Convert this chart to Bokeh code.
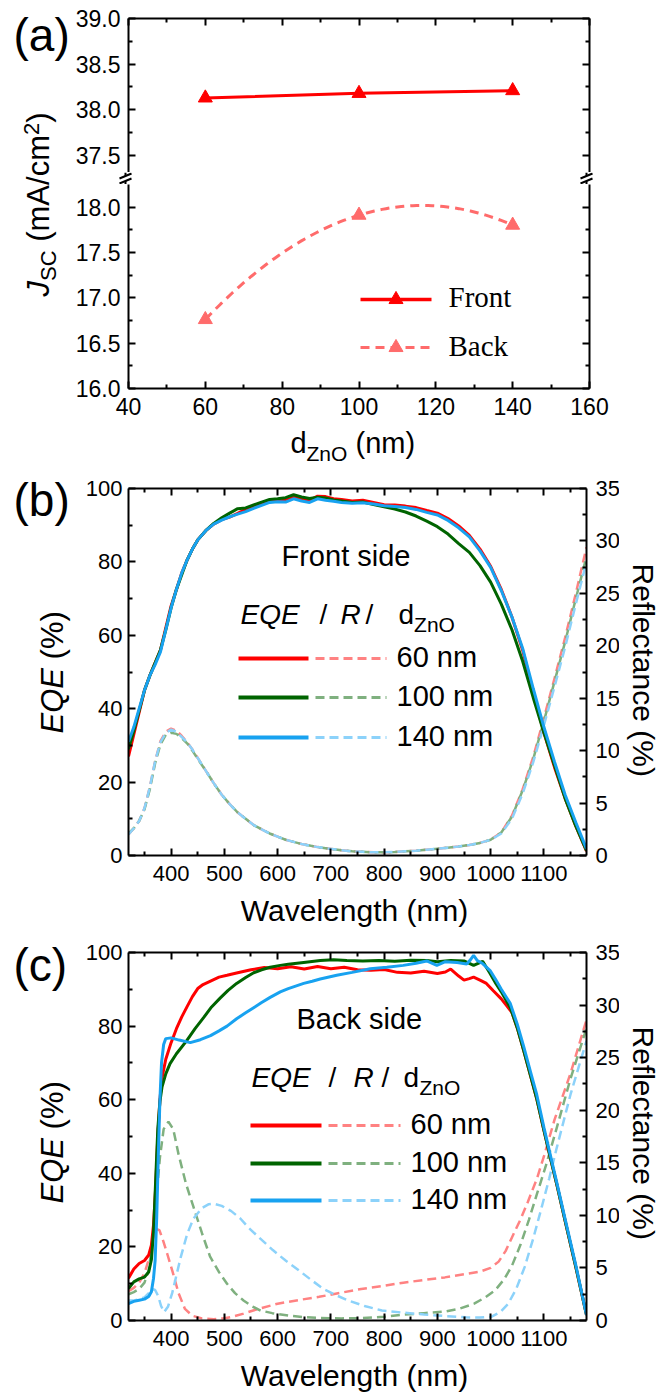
import numpy as np
from math import pi
from bokeh.plotting import figure
from bokeh.models import Range1d, LinearAxis, FixedTicker, CustomJSTickFormatter, Label
from bokeh.layouts import column, row
from bokeh.embed import file_html
from bokeh.resources import INLINE

SANS = "Liberation Sans"
SERIF = "Liberation Serif"

# ---------------- panel (a) data ----------------
d_zno = [60, 100, 140]
jsc_front = [38.13, 38.18, 38.21]
jsc_back = [16.76, 17.91, 17.80]
a_x_major = [40, 60, 80, 100, 120, 140, 160]
a_x_minor = [50, 70, 90, 110, 130, 150]
a_y_major_up = [37.5, 38.0, 38.5, 39.0]
a_y_minor_up = [37.75, 38.25, 38.75]
a_y_major_lo = [16.0, 16.5, 17.0, 17.5, 18.0]
a_y_minor_lo = [16.25, 16.75, 17.25, 17.75]

# ---------------- panel (b) data: front side ----------------
wl_front = [320, 330, 340, 350, 360, 370, 380, 390, 400, 410, 420, 430, 440, 450,
            465, 480, 495, 510, 525, 540, 555, 570, 585, 600, 615, 630, 645, 660, 675, 690, 705, 720,
            740, 760, 780, 800, 820, 840, 860, 880, 900, 920, 940, 960, 980, 1000, 1020, 1040, 1060,
            1080, 1100, 1120, 1140, 1160, 1180]
eqe_front_60 = [27, 33, 39, 45, 49, 52.5, 56, 62, 68, 72.5, 77, 80.5, 83.5, 86,
                88.5, 90.3, 91.5, 92.2, 93.2, 94.3, 95, 95.8, 96.5, 96.6, 96.8, 97.6, 97.2, 96.8, 97.9, 97.8, 97.2, 97,
                96.6, 96.8, 96.2, 95.6, 95.5, 95.2, 94.8, 94, 93.3, 91.8, 89.8, 87.2, 83.5, 78.8, 72.5, 65, 56,
                44.5, 33.5, 24, 15.5, 8, 1.2]
eqe_front_100 = [29, 34, 39.5, 45, 49, 52.5, 56, 61.5, 67.5, 72.5, 76.5, 80.5, 83.5, 86,
                 88.5, 90.5, 92, 93.3, 94.5, 94.7, 95.5, 96.3, 97, 97.2, 97.5, 98.3, 97.7, 97.3, 97.6, 97.4, 96.9, 96.6,
                 96.2, 96.3, 95.6, 95, 94.4, 93.6, 92.5, 91.1, 89.6, 87.6, 85, 82.6, 79, 74.5, 68.5, 61.5, 53,
                 43, 33.5, 24.5, 15.5, 8, 1.3]
eqe_front_140 = [31, 35, 40, 45, 49, 52, 55.5, 61.5, 67.5, 72.5, 77, 80.5, 83.5, 86,
                 88.5, 90.3, 91.4, 92.3, 93, 93.7, 94.6, 95.4, 96.2, 96.4, 96.3, 97.2, 96.6, 96.2, 97.2, 96.8, 96.5, 96.2,
                 96, 96.1, 95.8, 95.3, 95.1, 94.8, 94.3, 93.5, 92.8, 91.3, 89.3, 86.8, 83, 78.5, 72.2, 65, 56.5,
                 45.5, 35, 25.5, 16.5, 9, 1.8]
r_front_60 = [2.0, 2.6, 3.3, 4.5, 6.5, 9.0, 10.9, 11.8, 12.1, 11.9, 11.4, 10.8, 10.1, 9.3,
              8.1, 6.9, 5.8, 4.9, 4.1, 3.5, 2.9, 2.5, 2.1, 1.8, 1.5, 1.3, 1.1, 0.95, 0.8, 0.7, 0.6, 0.5,
              0.4, 0.35, 0.3, 0.3, 0.33, 0.4, 0.45, 0.55, 0.65, 0.75, 0.85, 1.0, 1.2, 1.5, 2.2, 3.8, 6.3,
              9.4, 13.1, 16.9, 20.8, 25.0, 29.4]
r_front_100 = [2.1, 2.6, 3.3, 4.4, 6.3, 8.8, 10.6, 11.5, 11.7, 11.6, 11.2, 10.7, 10.0, 9.2,
               8.1, 6.9, 5.8, 4.9, 4.1, 3.5, 2.9, 2.5, 2.1, 1.8, 1.5, 1.3, 1.1, 0.95, 0.8, 0.7, 0.6, 0.5,
               0.4, 0.35, 0.3, 0.3, 0.33, 0.4, 0.45, 0.55, 0.65, 0.75, 0.85, 1.0, 1.2, 1.5, 2.2, 3.7, 6.2,
               9.2, 12.8, 16.6, 20.4, 24.5, 28.5]
r_front_140 = [2.0, 2.6, 3.3, 4.5, 6.5, 9.0, 10.8, 11.7, 12.0, 11.8, 11.3, 10.8, 10.1, 9.3,
               8.1, 6.9, 5.8, 4.9, 4.1, 3.5, 2.9, 2.5, 2.1, 1.8, 1.5, 1.3, 1.1, 0.95, 0.8, 0.7, 0.6, 0.5,
               0.4, 0.35, 0.3, 0.3, 0.33, 0.4, 0.45, 0.55, 0.65, 0.75, 0.85, 1.0, 1.2, 1.5, 2.1, 3.5, 5.9,
               8.9, 12.4, 16.1, 19.9, 24.0, 28.0]

# ---------------- panel (c) data: back side ----------------
wl_eqe_back_60 = [320, 330, 340, 350, 358, 363, 367, 371, 375, 379, 383, 390, 400, 410, 420, 430, 440, 450, 460, 475,
                  490, 505, 525, 550, 575, 600, 625, 650, 675, 700, 725, 750, 775, 800, 825, 850, 875, 900, 915, 925,
                  940, 950, 960, 968, 980, 992, 1005, 1020, 1030, 1040, 1050, 1062, 1075, 1086, 1100, 1112, 1125,
                  1140, 1160, 1180]
eqe_back_60 = [11.5, 14, 15.5, 16.3, 17.8, 20.5, 26, 36, 50, 60, 66, 71, 75.5, 79.3, 82.5, 85.3, 88, 90.2, 91.3, 92.3,
               93.3, 93.8, 94.5, 95.3, 95.9, 95.6, 96.1, 95.5, 96.2, 95.6, 96.0, 95.3, 95.2, 95.4, 94.6, 94.4, 94.9,
               94.3, 94.7, 95.5, 93.6, 92.5, 92.9, 93.3, 92.5, 91.6, 89.6, 87.4, 85.6, 83.7, 79.5, 73.4, 66.5, 60.6,
               51.7, 44.3, 36.5, 27, 14.5, 1.5]
wl_eqe_back_100 = [320, 330, 340, 350, 358, 363, 367, 371, 375, 379, 383, 390, 398, 410, 429, 445, 461, 476, 492, 507,
                   523, 540, 555, 570, 586, 605, 620, 649, 680, 705, 730, 760, 790, 820, 850, 880, 900, 925, 950, 968,
                   985, 999, 1010, 1020, 1037, 1050, 1062, 1075, 1086, 1100, 1112, 1125, 1140, 1160, 1180]
eqe_back_100 = [8.7, 10.5, 11.3, 11.8, 13.2, 16.5, 24, 38, 52, 59.5, 63.5, 67, 69.8, 72.5, 76, 79.3, 82.3, 85.2, 87.6,
                89.7, 91.6, 93.2, 94.5, 95.3, 96, 96.5, 96.8, 97.3, 97.8, 98, 97.8, 97.7, 97.8, 97.6, 97.9, 97.8, 97.5,
                97.8, 97.7, 96.5, 97.6, 94.3, 91.5, 89.3, 85, 79.5, 73.4, 66.5, 60.6, 51.7, 44.3, 36.5, 27, 14.5, 1.5]
wl_eqe_back_140 = [320, 330, 340, 350, 358, 363, 367, 370, 373, 376, 379, 382, 386, 390, 400, 415, 436, 455, 474, 490,
                   505, 523, 540, 555, 570, 586, 605, 620, 649, 665, 680, 711, 740, 774, 805, 836, 860, 880, 899, 915,
                   937, 955, 962, 968, 975, 985, 999, 1010, 1020, 1037, 1050, 1062, 1075, 1086, 1100, 1112, 1125,
                   1140, 1160, 1180]
eqe_back_140 = [4.6, 5.2, 5.5, 5.8, 6.5, 7.8, 11.5, 16.3, 28, 45, 60, 70, 75, 76.6, 76.8, 76.2, 75.5, 76.3, 77.4, 78.7,
                80, 82, 83.6, 85, 86.4, 87.8, 89.3, 90.2, 91.6, 92.2, 92.8, 93.8, 94.6, 95.6, 96, 96.5, 97.1, 97.7,
                96.5, 97.5, 97.3, 96.9, 98, 99.2, 97.8, 97, 95.1, 92.5, 90, 86.1, 80.5, 74.5, 67.5, 61.7, 52.5, 45,
                37, 27.5, 15, 1.5]
wl_r_back_60 = [320, 330, 340, 350, 358, 365, 372, 378, 385, 393, 403, 414, 426, 440, 458, 480, 497, 515, 536, 560,
                600, 640, 678, 720, 757, 800, 836, 875, 914, 950, 980, 1000, 1015, 1028, 1040, 1056, 1070, 1087,
                1100, 1120, 1150, 1180]
r_back_60 = [2.8, 3.1, 3.6, 4.5, 5.8, 7.6, 8.7, 8.6, 7.6, 6.3, 4.6, 2.6, 1.1, 0.45, 0.2, 0.12, 0.2, 0.35, 0.65, 1.05,
             1.6, 1.95, 2.25, 2.65, 3.0, 3.3, 3.6, 3.85, 4.1, 4.4, 4.65, 5.0, 5.6, 6.6, 7.9, 9.6, 11.3, 13.5, 15.6,
             19.1, 23.5, 28.6]
wl_r_back_100 = [320, 330, 340, 350, 358, 365, 372, 379, 386, 395, 404, 414, 428, 442, 458, 473, 490, 505, 520, 536,
                 552, 568, 590, 623, 650, 678, 720, 757, 800, 836, 875, 914, 940, 969, 990, 1009, 1025, 1040, 1056,
                 1072, 1088, 1103, 1124, 1150, 1180]
r_back_100 = [2.5, 2.7, 3.0, 3.6, 4.8, 7.5, 11.5, 15.5, 18.2, 18.9, 18.2, 15.8, 13, 10.8, 8.3, 6.1, 4.6, 3.5, 2.6, 1.9,
              1.35, 0.95, 0.7, 0.45, 0.32, 0.25, 0.2, 0.22, 0.35, 0.55, 0.7, 0.85, 1.1, 1.6, 2.2, 2.9, 3.9, 5.2, 7.2,
              9.6, 12.2, 14.6, 18.3, 23, 27.8]
wl_r_back_140 = [320, 330, 340, 350, 358, 364, 370, 376, 381, 387, 394, 402, 418, 430, 442, 458, 470, 481, 495, 513,
                 530, 544, 565, 591, 615, 639, 662, 686, 710, 733, 765, 796, 835, 875, 915, 954, 980, 1001, 1018,
                 1033, 1048, 1064, 1080, 1096, 1110, 1124, 1150, 1180]
r_back_140 = [1.9, 1.9, 2.0, 2.2, 2.6, 3.0, 2.9, 2.3, 1.4, 0.8, 1.3, 2.6, 6.0, 8.2, 9.7, 10.7, 11.05, 11.1, 10.9, 10.4,
              9.7, 8.9, 7.9, 6.7, 5.7, 4.8, 3.9, 3.0, 2.4, 1.9, 1.35, 0.95, 0.75, 0.57, 0.42, 0.3, 0.28, 0.35, 0.8,
              1.6, 3.0, 5.1, 7.8, 10.8, 13.5, 16.4, 21.5, 26.6]

wl_x_major = [400, 500, 600, 700, 800, 900, 1000, 1100]
wl_x_minor = [350, 450, 550, 650, 750, 850, 950, 1050, 1150]
eqe_major = [0, 20, 40, 60, 80, 100]
eqe_minor = [10, 30, 50, 70, 90]
r_major = [0, 5, 10, 15, 20, 25, 30, 35]
r_minor = [2.5, 7.5, 12.5, 17.5, 22.5, 27.5, 32.5]
thick_labels = ["60 nm", "100 nm", "140 nm"]

RED, GREEN, BLUE = "#FF0000", "#006400", "#18A2F0"
RED_L, GREEN_L, BLUE_L = "#FF8282", "#7FB07F", "#8CD2FA"
BACK_A = "#FF6B6B"

PAGE_W, PAGE_H = 659, 1398
LSTRIP, RSTRIP = 72, 41           # text strips left / right of the panels
MID_W = PAGE_W - LSTRIP - RSTRIP  # 546
BORDER_L = 125 - LSTRIP           # 53
BASE_FIX = 0.4                    # Label baseline correction (fraction of the font size)


class Map:
    """page pixel -> data coordinates of one frame"""
    def __init__(s, L, R, T, B, x0, x1, y0, y1):
        s.L, s.R, s.T, s.B, s.x0, s.x1, s.y0, s.y1 = L, R, T, B, x0, x1, y0, y1

    def x(s, px):
        return s.x0 + (px - s.L) / (s.R - s.L) * (s.x1 - s.x0)

    def y(s, py):
        return s.y1 - (py - s.T) / (s.B - s.T) * (s.y1 - s.y0)


FMT1 = "return tick.toFixed(1);"


def style_axis(ax, ticker, show=True, standoff=8, size=22):
    ax.ticker = ticker
    ax.axis_line_width = 2
    ax.axis_line_color = "black"
    ax.major_tick_line_width = 2
    ax.minor_tick_line_width = 2
    ax.major_tick_line_color = "black"
    ax.minor_tick_line_color = "black"
    ax.major_tick_in = 7
    ax.major_tick_out = 0
    ax.minor_tick_in = 4
    ax.minor_tick_out = 0
    ax.major_label_text_font = SANS
    ax.major_label_text_color = "black"
    ax.axis_label = None
    if show:
        ax.major_label_text_font_size = f"{size}px"
        ax.major_label_standoff = standoff
    else:
        ax.formatter = CustomJSTickFormatter(code="return '';")
        ax.major_label_text_font_size = "1px"
        ax.major_label_standoff = 0


def base_fig(fw, fh, bl, br, bt, bb, xr, yr, xloc="below", yloc="left", align=True):
    p = figure(frame_width=fw, frame_height=fh, min_border_left=bl, min_border_right=br,
               min_border_top=bt, min_border_bottom=bb, x_range=xr, y_range=yr,
               x_axis_location=xloc, y_axis_location=yloc, frame_align=align,
               output_backend="svg", toolbar_location=None, tools="")
    p.xgrid.grid_line_color = None
    p.ygrid.grid_line_color = None
    p.outline_line_color = None
    p.background_fill_color = "white"
    p.border_fill_color = "white"
    return p


def strip_fig(fw, h, bl, br, x0, x1, y0, y1):
    # a plain strip whose data coordinates are page pixels
    return base_fig(fw, h, bl, br, 0, 0, Range1d(x0, x1), Range1d(y1, y0), xloc=None, yloc=None, align=False)


def lab(p, m, px, py, text, size, font=SANS, style="normal", align="left", angle=0.0):
    if angle == 0:
        py = py - BASE_FIX * size
    elif angle > 0:
        px = px - BASE_FIX * size
    else:
        px = px + BASE_FIX * size
    x = m.x(px) if m is not None else px
    y = m.y(py) if m is not None else py
    p.add_layout(Label(x=x, y=y, text=text, text_font=font, text_font_size=f"{size}px",
                       text_font_style=style, text_align=align, text_baseline="alphabetic", angle=angle,
                       text_color="black"))


# ====================== (a): upper and lower segments of the broken axis ======================
UP_T, UP_B = 18, 172
LO_T, LO_B = 184, 388
A_BOT = 38
up_lo = 39.0 - (UP_B - UP_T) / 91.3
lo_hi = 16.0 + (LO_B - LO_T) / 90.75
xt_a = FixedTicker(ticks=a_x_major, minor_ticks=a_x_minor)
RB_A = MID_W - BORDER_L - 461

pa_up = base_fig(461, UP_B - UP_T, BORDER_L, RB_A, UP_T, 0,
                 Range1d(40, 160), Range1d(up_lo, 39.0), xloc=None)
yt_up = FixedTicker(ticks=a_y_major_up, minor_ticks=a_y_minor_up)
style_axis(pa_up.yaxis[0], yt_up, standoff=8, size=23)
pa_up.yaxis[0].formatter = CustomJSTickFormatter(code=FMT1)
ax = LinearAxis()
style_axis(ax, xt_a, show=False)
pa_up.add_layout(ax, "above")
ax = LinearAxis()
style_axis(ax, yt_up, show=False)
pa_up.add_layout(ax, "right")
pa_up.line(d_zno, jsc_front, line_color=RED, line_width=3)
pa_up.scatter(d_zno, jsc_front, marker="triangle", size=14, fill_color=RED, line_color=RED)

# break strip between the two segments (frame a little wider than the panel frame)
BS_L, BS_R = 117, 594
bs = strip_fig(BS_R - BS_L, LO_T - UP_B, BS_L - LSTRIP, MID_W - (BS_R - LSTRIP), BS_L, BS_R, UP_B, LO_T)
for cx in (125, 586):
    bs.segment(x0=[cx, cx], y0=[UP_B, 180.5], x1=[cx, cx], y1=[175.5, LO_T], line_color="black", line_width=2)
    bs.segment(x0=[cx - 6, cx - 6], y0=[178, 183], x1=[cx + 6, cx + 6], y1=[173, 178],
               line_color="black", line_width=2)

pa_lo = base_fig(461, LO_B - LO_T, BORDER_L, RB_A, 0, A_BOT,
                 Range1d(40, 160), Range1d(16.0, lo_hi))
yt_lo = FixedTicker(ticks=a_y_major_lo, minor_ticks=a_y_minor_lo)
style_axis(pa_lo.xaxis[0], xt_a, standoff=9, size=23)
style_axis(pa_lo.yaxis[0], yt_lo, standoff=8, size=23)
pa_lo.yaxis[0].formatter = CustomJSTickFormatter(code=FMT1)
ax = LinearAxis()
style_axis(ax, yt_lo, show=False)
pa_lo.add_layout(ax, "right")
ma = Map(125, 586, LO_T, LO_B, 40, 160, 16.0, lo_hi)

xs_fit = np.linspace(min(d_zno), max(d_zno), 81)
back_fit = np.polyval(np.polyfit(d_zno, jsc_back, 2), xs_fit)
pa_lo.line(xs_fit, back_fit, line_color=BACK_A, line_width=3, line_dash="9 6")
pa_lo.scatter(d_zno, jsc_back, marker="triangle", size=14, fill_color=BACK_A, line_color=BACK_A)

# legend (a)
pa_lo.segment(x0=[ma.x(357)], y0=[ma.y(299)], x1=[ma.x(428)], y1=[ma.y(299)], line_color=RED, line_width=3.5)
pa_lo.scatter([ma.x(392.5)], [ma.y(299)], marker="triangle", size=14, fill_color=RED, line_color=RED)
pa_lo.segment(x0=[ma.x(357)], y0=[ma.y(347)], x1=[ma.x(428)], y1=[ma.y(347)], line_color=BACK_A,
              line_width=3, line_dash="9 6")
pa_lo.scatter([ma.x(392.5)], [ma.y(347)], marker="triangle", size=14, fill_color=BACK_A, line_color=BACK_A)
lab(pa_lo, ma, 445, 308, "Front", 29, font=SERIF)
lab(pa_lo, ma, 445, 357, "Back", 29, font=SERIF)

# x-axis title strip (a): page rows 426..468
SA_T = LO_B + A_BOT
SA_B = 468
sa = strip_fig(461, SA_B - SA_T, BORDER_L, RB_A, 125, 586, SA_T, SA_B)
lab(sa, None, 290, 454, "d", 29)
lab(sa, None, 306, 461, "ZnO", 21)
lab(sa, None, 355, 454, "(nm)", 29)


# ====================== (b) and (c) ======================
RB_BC = MID_W - BORDER_L - 458
BC_BOT = 38


def spectral_panel(top_border, frame_h, page_top):
    p = base_fig(458, frame_h, BORDER_L, RB_BC, top_border, BC_BOT,
                 Range1d(320, 1180), Range1d(0, 100))
    p.extra_y_ranges = {"R": Range1d(0, 35)}
    m = Map(125, 583, page_top, page_top + frame_h, 320, 1180, 0, 100)
    xt = FixedTicker(ticks=wl_x_major, minor_ticks=wl_x_minor)
    yt = FixedTicker(ticks=eqe_major, minor_ticks=eqe_minor)
    rt = FixedTicker(ticks=r_major, minor_ticks=r_minor)
    style_axis(p.xaxis[0], xt, standoff=10)
    style_axis(p.yaxis[0], yt, standoff=6)
    at = LinearAxis()
    style_axis(at, xt, show=False)
    p.add_layout(at, "above")
    ar = LinearAxis(y_range_name="R")
    style_axis(ar, rt, standoff=9)
    p.add_layout(ar, "right")
    return p, m


def legend_block(p, m, side_text, side_x, side_base, hdr_x, hdr_base, rows_y, solid_x, dash_x, text_x):
    lab(p, m, side_x, side_base, side_text, 29)
    eq, s1, r, s2, d, zno = hdr_x
    lab(p, m, eq, hdr_base, "EQE", 28, style="italic")
    lab(p, m, s1, hdr_base, "/", 28)
    lab(p, m, r, hdr_base, "R", 28, style="italic")
    lab(p, m, s2, hdr_base, "/", 28)
    lab(p, m, d, hdr_base, "d", 28)
    lab(p, m, zno, hdr_base + 7, "ZnO", 21)
    for yc, c, cl, t in zip(rows_y, (RED, GREEN, BLUE), (RED_L, GREEN_L, BLUE_L), thick_labels):
        p.segment(x0=[m.x(solid_x[0])], y0=[m.y(yc)], x1=[m.x(solid_x[1])], y1=[m.y(yc)],
                  line_color=c, line_width=4)
        p.segment(x0=[m.x(dash_x[0])], y0=[m.y(yc)], x1=[m.x(dash_x[1])], y1=[m.y(yc)],
                  line_color=cl, line_width=3, line_dash="9 5")
        lab(p, m, text_x, yc + 10.5, t, 29)


# ---- (b): page rows 468..893, frame 488..855
pb, mb = spectral_panel(488 - SA_B, 367, 488)
for wl, rr, c in ((wl_front, r_front_60, RED_L), (wl_front, r_front_100, GREEN_L), (wl_front, r_front_140, BLUE_L)):
    pb.line(wl, rr, y_range_name="R", line_color=c, line_width=2.5, line_dash="9 5")
for wl, ee, c in ((wl_front, eqe_front_60, RED), (wl_front, eqe_front_100, GREEN), (wl_front, eqe_front_140, BLUE)):
    pb.line(wl, ee, line_color=c, line_width=3)
legend_block(pb, mb, "Front side", 278, 567, (237, 316, 337, 362, 395, 410.6), 625,
             (658, 697, 737), (235, 305), (312, 383), 393)
SB_T, SB_B = 855 + BC_BOT, 933
sb = strip_fig(458, SB_B - SB_T, BORDER_L, RB_BC, 125, 583, SB_T, SB_B)
lab(sb, None, 354, 922, "Wavelength (nm)", 30, align="center")

# ---- (c): page rows 933..1358, frame 952..1320
pc, mc = spectral_panel(952 - SB_B, 368, 952)
for wl, rr, c in ((wl_r_back_60, r_back_60, RED_L), (wl_r_back_100, r_back_100, GREEN_L),
                  (wl_r_back_140, r_back_140, BLUE_L)):
    pc.line(wl, rr, y_range_name="R", line_color=c, line_width=2.5, line_dash="9 5")
for wl, ee, c in ((wl_eqe_back_60, eqe_back_60, RED), (wl_eqe_back_100, eqe_back_100, GREEN),
                  (wl_eqe_back_140, eqe_back_140, BLUE)):
    pc.line(wl, ee, line_color=c, line_width=3)
legend_block(pc, mc, "Back side", 293, 1030, (248, 325, 350, 378, 400, 416), 1088,
             (1125, 1163, 1200), (247, 318), (325, 397), 407)
SC_T = 1320 + BC_BOT
sc = strip_fig(458, PAGE_H - SC_T, BORDER_L, RB_BC, 125, 583, SC_T, PAGE_H)
lab(sc, None, 354, 1387, "Wavelength (nm)", 30, align="center")

# ====================== side text strips ======================
lf = strip_fig(LSTRIP, PAGE_H, 0, 0, 0, LSTRIP, 0, PAGE_H)
lab(lf, None, 13, 53, "(a)", 46)
lab(lf, None, 13, 518, "(b)", 46)
lab(lf, None, 13, 983, "(c)", 46)
lab(lf, None, 50, 296, "J", 31, style="italic", angle=pi / 2)
lab(lf, None, 57, 280.5, "SC", 22, angle=pi / 2)
lab(lf, None, 50, 241.3, "(mA/cm", 31, angle=pi / 2)
lab(lf, None, 40, 134.5, "2", 22, angle=pi / 2)
lab(lf, None, 50, 122.3, ")", 31, angle=pi / 2)
for base in (733, 1203):
    lab(lf, None, 64, base, "EQE", 31, style="italic", angle=pi / 2)
    lab(lf, None, 64, base - 74.1, "(%)", 31, angle=pi / 2)

rf = strip_fig(RSTRIP, PAGE_H, 0, 0, PAGE_W - RSTRIP, PAGE_W, 0, PAGE_H)
lab(rf, None, 628, 563, "Reflectance (%)", 30, angle=-pi / 2)
lab(rf, None, 628, 1026, "Reflectance (%)", 30, angle=-pi / 2)

mid = column(pa_up, bs, pa_lo, sa, pb, sb, pc, sc, spacing=0)
layout = row(lf, mid, rf, spacing=0)
open("out.html", "w").write(file_html(layout, INLINE))
